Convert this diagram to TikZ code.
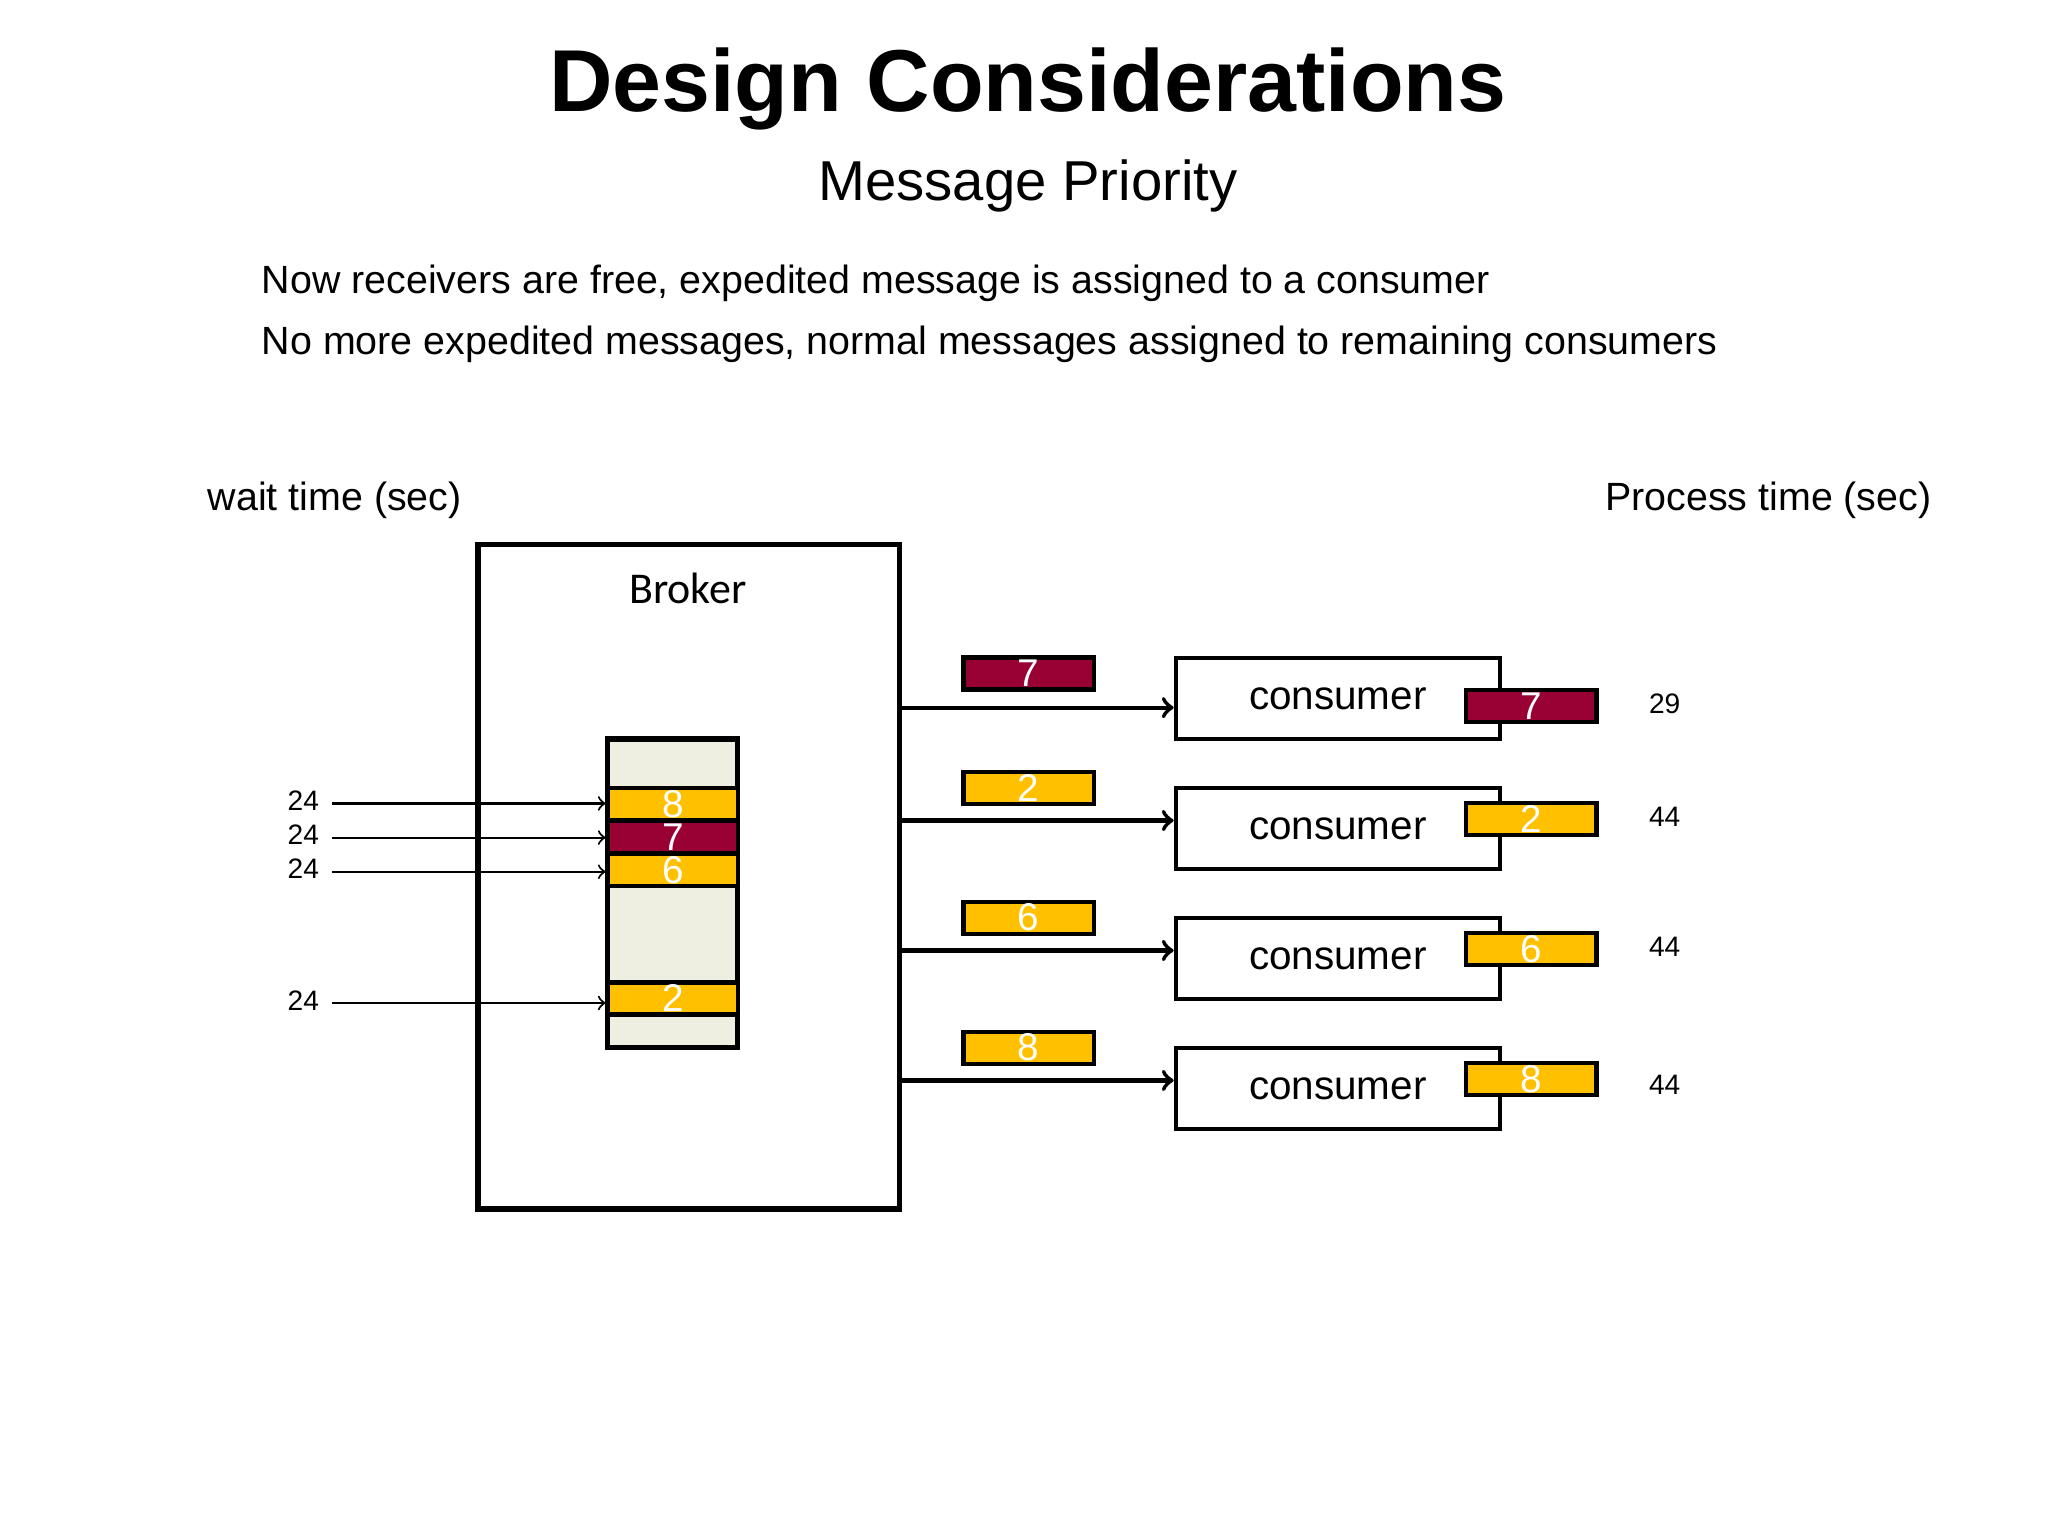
\documentclass[tikz,border=0pt]{standalone}
\usepackage{fontspec}
\setmainfont{Liberation Sans}
\newfontfamily\brokerfont{Carlito}
\usetikzlibrary{positioning}
\definecolor{maroon}{HTML}{990033}
\definecolor{amber}{HTML}{FFC000}
\definecolor{qfill}{HTML}{EEEFE0}
\tikzset{
  msg/.style={draw, line width=1.2pt, minimum width=1.3cm, minimum height=0.32cm, inner sep=0pt, text=white, font=\fontsize{11}{11}\selectfont},
  hi/.style={msg, fill=maroon},
  lo/.style={msg, fill=amber},
  cons/.style={draw, line width=1.2pt, minimum width=3.24cm, minimum height=0.81cm, inner sep=0pt, font=\fontsize{11.5}{12}\selectfont},
  small/.style={font=\fontsize{8}{8}\selectfont},
  mid/.style={font=\fontsize{11.2}{12}\selectfont}
}
\begin{document}
\begin{tikzpicture}[x=0.013128cm, y=-0.013128cm]
\useasboundingbox (0,0) rectangle (1560,1170);

\node[font=\bfseries\fontsize{25}{27}\selectfont] (title) at (783,68) {Design Considerations};
\node[font=\fontsize{16}{18}\selectfont] (sub) at (783,142) {Message Priority};
\node[mid, anchor=west] (l1) at (190,216) {Now receivers are free, expedited message is assigned to a consumer};
\node[mid, anchor=west] (l2) at (190,262) {No more expedited messages, normal messages assigned to remaining consumers};
\node[mid] (wait) at (255,381) {wait time (sec)};
\node[mid] (proc) at (1347,381) {Process time (sec)};

% broker
\draw[line width=1.5pt] (364,415) rectangle (685,921);
\node[font=\brokerfont\fontsize{12.5}{13}\selectfont] (broker) at (524,448) {Broker};
\draw[line width=1.5pt, fill=qfill] (463,563) rectangle (562,798);
\node[lo] (q8) at (512.5,612.5) {8};
\node[hi] (q7) at (512.5,637.5) {7};
\node[lo] (q6) at (512.5,662.5) {6};
\node[lo] (q2) at (512.5,760.5) {2};

% incoming
\foreach \n/\y in {8/612,7/638,6/664,2/764}{
  \node[small] (w\n) at (231,\y-2) {24};
  \coordinate (s\n) at (253,\y);
  \draw[->, line width=0.6pt] (s\n) -- (s\n -| q\n.west);
}

% consumers
\foreach \i/\n/\y/\m/\a/\c/\t/\ty in {1/7/532/513/538/hi/29/536,2/2/631/600/624/lo/44/622,3/6/730/699/723/lo/44/721,4/8/829/798/822/lo/44/826}{
  \node[cons, anchor=west] (c\i) at (894,\y) {consumer};
  \node[\c] (a\i) at (1166.5,\a) {\n};
  \node[\c] (m\i) at (783.5,\m) {\n};
  \node[small] (p\i) at (1268,\ty) {\t};
  \coordinate (o\i) at (685,\a+1);
  \draw[->, line width=1.2pt] (o\i) -- (o\i -| c\i.west);
}
\end{tikzpicture}
\end{document}
